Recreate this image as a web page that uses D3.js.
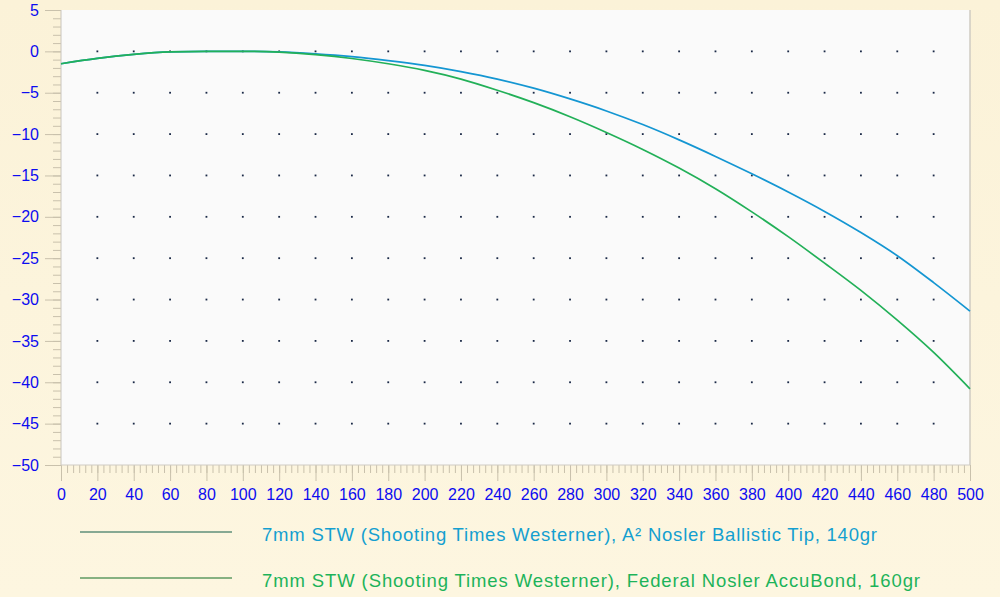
<!DOCTYPE html>
<html>
<head>
<meta charset="utf-8">
<script src="https://cdn.jsdelivr.net/npm/d3@7"></script>
<style>
html,body{margin:0;padding:0;background:#fcf4dc;}
svg{display:block;}
</style>
</head>
<body>
<svg id="chart" width="1000" height="597"></svg>
<script>
// ---- data ----
const ranges = [0,20,40,60,80,100,120,140,160,180,200,220,240,260,280,300,320,340,360,380,400,420,440,460,480,500];
const ballisticTip140 = [-1.5,-0.85,-0.37,-0.07,0,0,-0.07,-0.3,-0.64,-1.12,-1.7,-2.45,-3.35,-4.45,-5.75,-7.2,-8.85,-10.7,-12.7,-14.8,-17.0,-19.35,-21.9,-24.7,-27.95,-31.4];
const accuBond160    = [-1.5,-0.85,-0.37,-0.07,0,0,-0.1,-0.4,-0.86,-1.5,-2.3,-3.35,-4.7,-6.2,-7.9,-9.8,-11.85,-14.1,-16.6,-19.4,-22.4,-25.6,-28.9,-32.5,-36.4,-40.8];
const xTicks = d3.range(0, 501, 20);
const yTicks = d3.range(-50, 6, 5);
const dotX = d3.range(20, 481, 20);
const dotY = d3.range(-45, 1, 5);
const seriesNames = [
  "7mm STW (Shooting Times Westerner), A\u00b2 Nosler Ballistic Tip, 140gr",
  "7mm STW (Shooting Times Westerner), Federal Nosler AccuBond, 160gr"
];

(function(){
const svg = d3.select("#chart");
const W = 1000, H = 597;
const pL = 61, pR = 970, pT = 10, pB = 465;
const x = d3.scaleLinear().domain([0,500]).range([pL,pR]);
const y = d3.scaleLinear().domain([-50,5]).range([pB,pT]);

const defs = svg.append("defs");
const bg = defs.append("linearGradient").attr("id","bgGrad").attr("x1",0).attr("y1",0).attr("x2",0).attr("y2",1);
bg.append("stop").attr("offset","0%").attr("stop-color","#fbf2d8");
bg.append("stop").attr("offset","100%").attr("stop-color","#fdf6e0");
svg.append("rect").attr("width",W).attr("height",H).attr("fill","url(#bgGrad)");

svg.append("rect").attr("x",pL).attr("y",pT).attr("width",pR-pL).attr("height",pB-pT)
  .attr("fill","#fafafa");
svg.append("line").attr("x1",pR).attr("x2",pR).attr("y1",pT).attr("y2",pB)
  .attr("stroke","#cfcbc2").attr("stroke-width",1.5);

// dot grid
const dots = [];
dotY.forEach(v => dotX.forEach(u => dots.push([u,v])));
svg.append("g").selectAll("rect").data(dots).join("rect")
  .attr("x", d => x(d[0]) - 0.9).attr("y", d => y(d[1]) - 0.9)
  .attr("width",1.8).attr("height",1.8).attr("fill","#1a2946");

const tickColor = "#c9c1ac";
const labelColor = "#0c0cf0";
const font = "'Liberation Sans', Arial, sans-serif";

const yMinor = svg.append("g").attr("transform",`translate(${pL},0)`)
  .call(d3.axisLeft(y).tickValues(d3.range(-50,6,1)).tickSize(8).tickFormat(""));
const yMajor = svg.append("g").attr("transform",`translate(${pL},0)`)
  .call(d3.axisLeft(y).tickValues(yTicks).tickSize(16).tickPadding(6).tickFormat(d3.format("d")));
[yMinor,yMajor].forEach(g => { g.selectAll("line").attr("stroke",tickColor); g.select(".domain").remove(); });
yMajor.selectAll("text").attr("fill",labelColor).style("font-family",font).style("font-size","16px");

const xMinor = svg.append("g").attr("transform",`translate(0,${pB})`)
  .call(d3.axisBottom(x).tickValues(d3.range(0,500.01,20/6)).tickSize(8).tickFormat(""));
const xMajor = svg.append("g").attr("transform",`translate(0,${pB})`)
  .call(d3.axisBottom(x).tickValues(xTicks).tickSize(16).tickPadding(8).tickFormat(d3.format("d")));
[xMinor,xMajor].forEach(g => { g.selectAll("line").attr("stroke",tickColor); g.select(".domain").remove(); });
xMajor.selectAll("text").attr("fill",labelColor).style("font-family",font).style("font-size","16px");

svg.append("line").attr("x1",pL).attr("x2",pL).attr("y1",pT).attr("y2",pB).attr("stroke","#c8c4bc");
svg.append("line").attr("x1",pL).attr("x2",pR).attr("y1",pB).attr("y2",pB).attr("stroke","#d0ccc4");

// curves
const line = d3.line().x(d => x(d[0])).y(d => y(d[1])).curve(d3.curveMonotoneX);
const colors = ["#1496d2","#22b058"];
svg.append("path").datum(ranges.map((r,i)=>[r,ballisticTip140[i]]))
  .attr("d",line).attr("fill","none").attr("stroke",colors[0]).attr("stroke-width",1.7);
svg.append("path").datum(ranges.map((r,i)=>[r,accuBond160[i]]))
  .attr("d",line).attr("fill","none").attr("stroke",colors[1]).attr("stroke-width",1.7);

// legend
const legendY = [532, 578];
const legendLine = ["#5f8f7a","#5e9a62"];
const legendText = ["#149fd0","#1db35a"];
const legendLen = [615, 658];
seriesNames.forEach((name,i) => {
  svg.append("line").attr("x1",80).attr("x2",232).attr("y1",legendY[i]).attr("y2",legendY[i])
    .attr("stroke",legendLine[i]).attr("stroke-width",1.3);
  svg.append("text").attr("x",262).attr("y",legendY[i]+9)
    .attr("fill",legendText[i]).style("font-family",font).style("font-size","18.5px")
    .attr("textLength",legendLen[i]).attr("lengthAdjust","spacing")
    .text(name);
});
})();
</script>
</body>
</html>
